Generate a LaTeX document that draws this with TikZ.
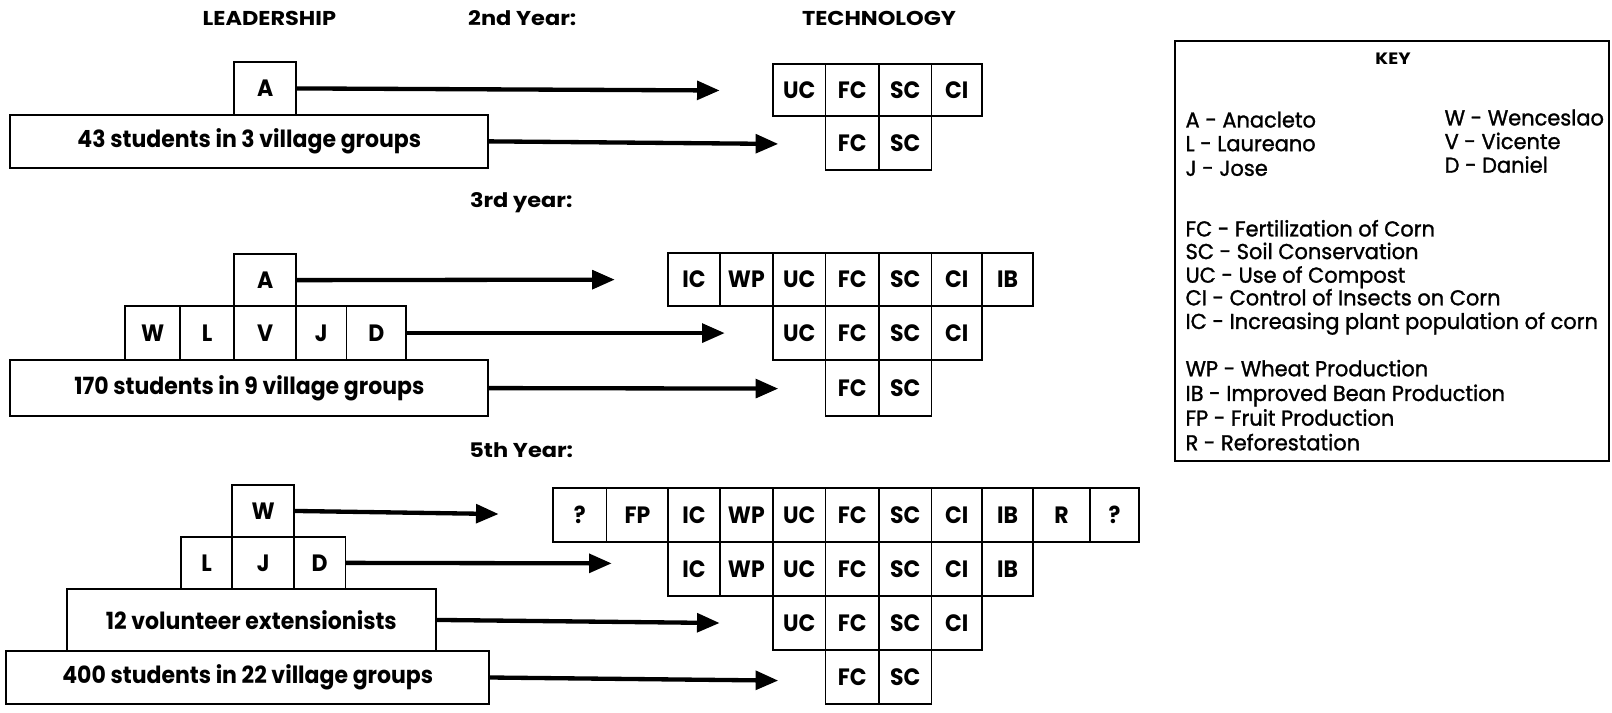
\documentclass[tikz,border=0pt]{standalone}
\usepackage{fontspec}
\setmainfont{Poppins}
\newfontfamily\boxfont{Poppins}[FakeStretch=0.93]
\newfontfamily\headfont{Poppins}[FakeStretch=1.12]
\newfontfamily\keyfont{Poppins}[FakeStretch=0.97, FakeBold=1.3]
\usetikzlibrary{arrows.meta}
\newcommand\cellbox[6]{\node[box, minimum width={(#3-#2)*1pt}, minimum height={(#5-#4)*1pt}] (#1) at ({(#2+#3)/2},{(#4+#5)/2}) {#6};}
\begin{document}
\begin{tikzpicture}[x=1pt,y=-1pt,
  box/.style={draw, line width=1.8pt, inner sep=0pt, outer sep=0pt, font=\boxfont\bfseries\fontsize{23}{23}\selectfont},
  arr/.style={line width=4.2pt, -{Triangle[length=22pt,width=18pt]}},
  head/.style={font=\headfont\bfseries\fontsize{19.5}{19.5}\selectfont},
  keytxt/.style={anchor=base west, inner sep=0pt, font=\keyfont\fontsize{21}{21}\selectfont}]
\useasboundingbox (0,0) rectangle (1568,693);
% headings
\node[head] (hlead) at (262,18) {LEADERSHIP};
\node[head] (h2) at (508,18) {2nd Year:};
\node[head] (htech) at (855,18) {TECHNOLOGY};
\node[head] (h3) at (507,197) {3rd year:};
\node[head] (h5) at (507,438) {5th Year:};
% ---------- 2nd year ----------
\cellbox{A2}{228}{288}{60}{112}{A}
\cellbox{S2}{10}{475}{112}{163}{43 students in 3 village groups}
\coordinate (eA2) at (700,88);
\coordinate (eS2) at (757,140);
\draw[arr] (A2.east) -- (eA2);
\draw[arr] (S2.east) -- (eS2);
\cellbox{t2a}{752}{803}{62}{113}{UC}
\cellbox{t2b}{803}{855}{62}{113}{FC}
\cellbox{t2c}{855}{906}{62}{113}{SC}
\cellbox{t2d}{906}{955}{62}{113}{CI}
\cellbox{t2e}{803}{855}{113}{165}{FC}
\cellbox{t2f}{855}{906}{113}{165}{SC}
% ---------- 3rd year ----------
\cellbox{A3}{228}{288}{247}{298}{A}
\cellbox{W3}{122}{175}{298}{350}{W}
\cellbox{L3}{175}{228}{298}{350}{L}
\cellbox{V3}{228}{288}{298}{350}{V}
\cellbox{J3}{288}{337}{298}{350}{J}
\cellbox{D3}{337}{395}{298}{350}{D}
\cellbox{S3}{10}{475}{350}{405}{170 students in 9 village groups}
\coordinate (eA3) at (598,272);
\coordinate (eD3) at (705,324);
\coordinate (eS3) at (757,378);
\draw[arr] (A3.east) -- (eA3);
\draw[arr] (D3.east) -- (eD3);
\draw[arr] (S3.east) -- (eS3);
\cellbox{u1}{650}{700}{246}{298}{IC}
\cellbox{u2}{700}{752}{246}{298}{WP}
\cellbox{u3}{752}{803}{246}{298}{UC}
\cellbox{u4}{803}{855}{246}{298}{FC}
\cellbox{u5}{855}{906}{246}{298}{SC}
\cellbox{u6}{906}{955}{246}{298}{CI}
\cellbox{u7}{955}{1005}{246}{298}{IB}
\cellbox{v1}{752}{803}{298}{350}{UC}
\cellbox{v2}{803}{855}{298}{350}{FC}
\cellbox{v3}{855}{906}{298}{350}{SC}
\cellbox{v4}{906}{955}{298}{350}{CI}
\cellbox{w1}{803}{855}{350}{405}{FC}
\cellbox{w2}{855}{906}{350}{405}{SC}
% ---------- 5th year ----------
\cellbox{W5}{226}{286}{472}{522}{W}
\cellbox{L5}{176}{226}{522}{573}{L}
\cellbox{J5}{226}{286}{522}{573}{J}
\cellbox{D5}{286}{336}{522}{573}{D}
\cellbox{X5}{65}{424}{573}{633}{12 volunteer extensionists}
\cellbox{S5}{6}{476}{633}{685}{400 students in 22 village groups}
\coordinate (eW5) at (485,500);
\coordinate (eD5) at (595,548);
\coordinate (eX5) at (700,606);
\coordinate (eS5) at (757,662);
\draw[arr] (W5.east) -- (eW5);
\draw[arr] (D5.east) -- (eD5);
\draw[arr] (X5.east) -- (eX5);
\draw[arr] (S5.east) -- (eS5);
\cellbox{p1}{538}{590}{475}{527}{?}
\cellbox{p2}{590}{650}{475}{527}{FP}
\cellbox{p3}{650}{700}{475}{527}{IC}
\cellbox{p4}{700}{752}{475}{527}{WP}
\cellbox{p5}{752}{803}{475}{527}{UC}
\cellbox{p6}{803}{855}{475}{527}{FC}
\cellbox{p7}{855}{906}{475}{527}{SC}
\cellbox{p8}{906}{955}{475}{527}{CI}
\cellbox{p9}{955}{1005}{475}{527}{IB}
\cellbox{p10}{1005}{1060}{475}{527}{R}
\cellbox{p11}{1060}{1108}{475}{527}{?}
\cellbox{q1}{650}{700}{527}{580}{IC}
\cellbox{q2}{700}{752}{527}{580}{WP}
\cellbox{q3}{752}{803}{527}{580}{UC}
\cellbox{q4}{803}{855}{527}{580}{FC}
\cellbox{q5}{855}{906}{527}{580}{SC}
\cellbox{q6}{906}{955}{527}{580}{CI}
\cellbox{q7}{955}{1005}{527}{580}{IB}
\cellbox{r1}{752}{803}{580}{632}{UC}
\cellbox{r2}{803}{855}{580}{632}{FC}
\cellbox{r3}{855}{906}{580}{632}{SC}
\cellbox{r4}{906}{955}{580}{632}{CI}
\cellbox{s1}{803}{855}{632}{685}{FC}
\cellbox{s2}{855}{906}{632}{685}{SC}
% ---------- KEY ----------
\node[draw, line width=1.8pt, minimum width=422pt, minimum height=408pt, inner sep=0pt] (key) at (1354,244) {};
\node[font=\headfont\bfseries\fontsize{16}{16}\selectfont] (keyt) at (1355,57) {KEY};
\node[keytxt] (k1) at (1153,124) {A - Anacleto};
\node[keytxt] (k2) at (1153,147) {L - Laureano};
\node[keytxt] (k3) at (1153,171) {J - Jose};
\node[keytxt] (k4) at (1405,122) {W - Wenceslao};
\node[keytxt] (k5) at (1405,145) {V - Vicente};
\node[keytxt] (k6) at (1405,168) {D - Daniel};
\node[keytxt] (k7) at (1153,230) {FC - Fertilization of Corn};
\node[keytxt] (k8) at (1153,252) {SC - Soil Conservation};
\node[keytxt] (k9) at (1153,275) {UC - Use of Compost};
\node[keytxt] (k10) at (1153,297) {CI - Control of Insects on Corn};
\node[keytxt] (k11) at (1153,320) {IC - Increasing plant population of corn};
\node[keytxt] (k12) at (1153,366) {WP - Wheat Production};
\node[keytxt] (k13) at (1153,390) {IB - Improved Bean Production};
\node[keytxt] (k14) at (1153,414) {FP - Fruit Production};
\node[keytxt] (k15) at (1153,438) {R - Reforestation};
\end{tikzpicture}
\end{document}
